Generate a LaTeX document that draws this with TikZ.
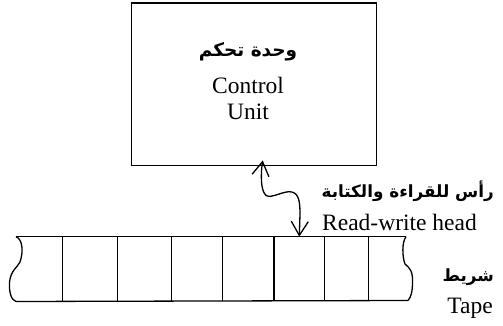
\documentclass[tikz,border=0pt]{standalone}
\usepackage{fontspec}
\setmainfont{Liberation Serif}
\newfontfamily\arabicfont[Script=Arabic]{DejaVu Sans}
\TeXXeTstate=1
\usetikzlibrary{arrows.meta}
\begin{document}
\begin{tikzpicture}[x=1pt,y=-1pt,
  line/.style={line width=1.3pt, line join=round},
  arlabel/.style={font=\arabicfont\bfseries\fontsize{16.8}{20}\selectfont, inner sep=0pt},
  enlabel/.style={font=\fontsize{23.5}{26}\selectfont, inner sep=0pt},
  bothbarbs/.style={arrows={Straight Barb[length=14pt,width=17pt,line width=1.3pt]-Straight Barb[length=14pt,width=17pt,line width=1.3pt]}}]
\useasboundingbox (0,0) rectangle (503,326);

% control unit
\node[draw, line width=1.4pt, anchor=north west, minimum width=245pt,
      minimum height=162pt, inner sep=0pt] (cu) at (130.5,2.5) {};
\node[arlabel, font=\arabicfont\bfseries\fontsize{18.5}{22}\selectfont, anchor=base]
  (cuar) at (248,57) {\beginR وحدة تحكم\endR};
\node[enlabel, anchor=base] (cuen1) at (248,94) {Control};
\node[enlabel, anchor=base] (cuen2) at (248,120) {Unit};

% tape: outline with torn ends
\draw[line] (16,236.7) -- (406,236.7);
\draw[line] (16,301.5) -- (408,300.5);
\draw[line] (16,236.7) .. controls (22,239) and (24,250) .. (20,262)
   .. controls (17,268) and (11,270) .. (9.5,282)
   .. controls (9,292) and (11,300) .. (16,301.5);
\draw[line] (406,236.7) .. controls (402,242) and (402,256) .. (405,264)
   .. controls (410,268) and (413,272) .. (412.5,282)
   .. controls (412.5,292) and (411,297) .. (408,300.5);
% tape cells
\foreach \x [count=\i] in {62.7,117.3,171.7,222.7,274,324.3,368.3}
  \draw[line] (\x,236.7) coordinate (c\i) -- (\x,301);

% read-write head
\coordinate (hd) at (299.3,236.7);
\path (cu.south west) ++(132.2,-5.5) coordinate (hu);
\draw[line, bothbarbs] (hu)
   .. controls (261,172) and (260,190) .. (266,195.5)
   .. controls (272,199) and (284,190) .. (292,192)
   .. controls (299,194) and (300,202) .. (300,214)
   -- (hd);

\node[arlabel, anchor=base east] (headar) at (494,197) {\beginR رأس للقراءة والكتابة\endR};
\node[enlabel, anchor=base west] (headen) at (322,230) {Read-write head};

\node[arlabel, anchor=base east] (tapear) at (494,281) {\beginR شريط\endR};
\node[enlabel, anchor=base east] (tapeen) at (493,313) {Tape};
\end{tikzpicture}
\end{document}
